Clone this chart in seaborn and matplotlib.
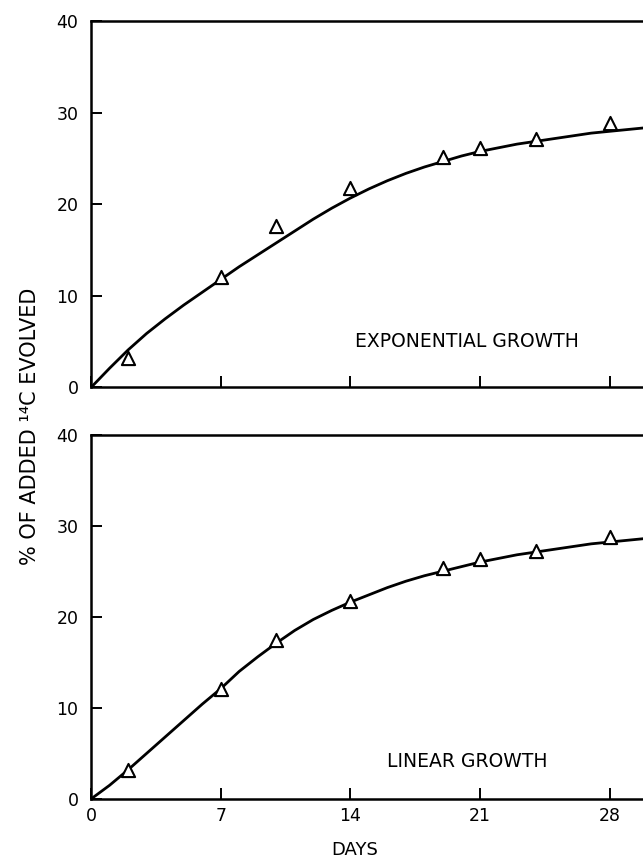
import matplotlib
matplotlib.use("Agg")
import matplotlib.pyplot as plt
import seaborn as sns
import pandas as pd

# ---- data ----
days = [2, 7, 10, 14, 19, 21, 24, 28]
exp_points = [3.2, 12.1, 17.6, 21.8, 25.2, 26.2, 27.2, 28.9]
lin_points = [3.2, 12.1, 17.5, 21.7, 25.3, 26.3, 27.2, 28.8]

curve_days = list(range(0, 31))
exp_curve = [0, 2.1, 4.1, 5.9, 7.5, 9.0, 10.4, 11.8, 13.2, 14.5, 15.8,
             17.1, 18.4, 19.6, 20.7, 21.7, 22.6, 23.4, 24.1, 24.7, 25.3,
             25.8, 26.2, 26.6, 26.9, 27.2, 27.5, 27.8, 28.0, 28.2, 28.4]
lin_curve = [0, 1.5, 3.2, 5.0, 6.8, 8.6, 10.4, 12.1, 14.0, 15.6, 17.1,
             18.5, 19.7, 20.7, 21.6, 22.4, 23.2, 23.9, 24.5, 25.0, 25.5,
             26.0, 26.4, 26.8, 27.1, 27.4, 27.7, 28.0, 28.2, 28.4, 28.6]

x_ticks = [0, 7, 14, 21, 28]
x_ticklabels = ["0", "7", "14", "21", "28"]
y_ticks = [0, 10, 20, 30, 40]
y_ticklabels = ["0", "10", "20", "30", "40"]

panel_labels = ["EXPONENTIAL GROWTH", "LINEAR GROWTH"]
y_label = "% OF ADDED \u00b9\u2074C EVOLVED"
x_label = "DAYS"

# ---- style ----
sns.set_style("ticks")
plt.rcParams["font.family"] = ["DejaVu Sans"]
plt.rcParams["text.color"] = "black"
plt.rcParams["axes.labelcolor"] = "black"
plt.rcParams["xtick.color"] = "black"
plt.rcParams["ytick.color"] = "black"

fig = plt.figure(figsize=(6.43, 8.61), dpi=100)
ax_top = fig.add_axes([91 / 643, 1 - 387.5 / 861, 552 / 643, 366 / 861])
ax_bot = fig.add_axes([91 / 643, 1 - 799 / 861, 552 / 643, 364.5 / 861])

panels = [
    (ax_top, exp_points, exp_curve, panel_labels[0], (20.3, 5.0)),
    (ax_bot, lin_points, lin_curve, panel_labels[1], (20.3, 4.1)),
]

for ax, pts, crv, lab, pos in panels:
    cdf = pd.DataFrame({"day": curve_days, "val": crv})
    pdf = pd.DataFrame({"day": days, "val": pts})
    sns.lineplot(data=cdf, x="day", y="val", ax=ax, color="black",
                 linewidth=2.0, zorder=2)
    sns.scatterplot(data=pdf, x="day", y="val", ax=ax, marker="^", s=90,
                    facecolor="white", edgecolor="black", linewidth=1.5,
                    zorder=3)
    ax.set_xlim(0, 29.8)
    ax.set_ylim(0, 40)
    ax.set_xticks(x_ticks)
    ax.set_yticks(y_ticks)
    ax.set_yticklabels(y_ticklabels)
    ax.tick_params(direction="in", length=8, width=1.4, labelsize=12.5,
                   colors="black", labelcolor="black")
    ax.tick_params(axis="y", pad=9)
    for side in ["left", "bottom", "top"]:
        ax.spines[side].set_linewidth(1.8)
        ax.spines[side].set_color("black")
    ax.spines["right"].set_visible(False)
    ax.set_xlabel("")
    ax.set_ylabel("")
    ax.text(pos[0], pos[1], lab, ha="center", va="center", fontsize=13.5,
            color="black")

ax_top.set_xticklabels([])
ax_bot.set_xticklabels(x_ticklabels)
ax_bot.tick_params(axis="x", pad=6)

fig.text(355 / 643, 1 - 850 / 861, x_label, ha="center", va="center",
         fontsize=13, color="black")
fig.text(30 / 643, 1 - 426 / 861, y_label, ha="center", va="center",
         rotation=90, fontsize=15, color="black")

fig.savefig("out.png", dpi=100)
